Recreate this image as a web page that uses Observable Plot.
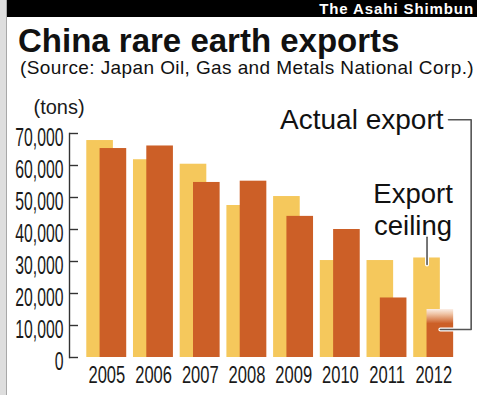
<!DOCTYPE html>
<html><head><meta charset="utf-8">
<script src="https://cdn.jsdelivr.net/npm/d3@7"></script>
<script src="https://cdn.jsdelivr.net/npm/@observablehq/plot@0.6"></script>
<style>
html,body{margin:0;padding:0;background:#fff;}
body{width:478px;height:395px;position:relative;overflow:hidden;font-family:"Liberation Sans",Arial,sans-serif;color:#111;}
#edge{position:absolute;left:0;top:0;width:6px;height:395px;background:#dedede;border-right:1px solid #a8a8a8;}
#brand{position:absolute;left:7px;top:0;width:470px;height:17px;background:#000;color:#fff;font-weight:bold;font-size:15px;line-height:17px;text-align:right;letter-spacing:0.9px;box-sizing:border-box;padding-right:3px;}
#title{position:absolute;left:18px;top:24px;font-weight:bold;font-size:33px;line-height:33px;white-space:nowrap;}
#subtitle{position:absolute;left:20px;top:58px;font-size:19px;line-height:19px;letter-spacing:0.4px;white-space:nowrap;}
#chart{position:absolute;left:0;top:80px;}
</style>
</head>
<body>
<div id="edge"></div>
<div id="brand">The Asahi Shimbun</div>
<div id="title">China rare earth exports</div>
<div id="subtitle">(Source: Japan Oil, Gas and Metals National Corp.)</div>
<div id="chart"></div>
<script>
const years = [2005, 2006, 2007, 2008, 2009, 2010, 2011, 2012];
const yearLabels = ["2005", "2006", "2007", "2008", "2009", "2010", "2011", "2012"];
const ceiling = [67800, 61800, 60400, 47500, 50300, 30300, 30300, 31100];
const actual = [65300, 66100, 54700, 55100, 44100, 40000, 18600, 15000];
const yTicks = [0, 10000, 20000, 30000, 40000, 50000, 60000, 70000];
const unitLabel = "(tons)";
const seriesLabels = ["Actual export", "Export\nceiling"];

const rows = years.map((year, i) => ({year, ceiling: ceiling[i], actual: actual[i]}));
const last = years[years.length - 1];
const lastRow = rows[rows.length - 1];

const ceilColor = "#f5c85c";
const actColor = "#cc5f27";
const leadColor = "#555";

const actualLeader = [
  {x: last + 0.315, y: 74300},
  {x: last + 0.8, y: 74300},
  {x: last + 0.8, y: 8750},
  {x: last + 0.14, y: 8750}
];
const ceilingLeader = [
  {x: last - 0.145, y: 37600},
  {x: last - 0.145, y: 29100}
];

const plot = Plot.plot({
  width: 478,
  height: 315,
  marginLeft: 69,
  marginRight: 5,
  marginTop: 53,
  marginBottom: 38,
  style: {fontFamily: "'Liberation Sans', Arial, sans-serif", color: "#1a1a1a", background: "transparent", overflow: "visible"},
  x: {domain: [2004.2, 2012.85]},
  y: {domain: [0, 70000], label: null},
  marks: [
    Plot.rect(rows, {x1: d => d.year - 0.43, x2: d => d.year + 0.14, y1: 0, y2: "ceiling", fill: ceilColor}),
    Plot.rect(rows.filter(d => d.year !== last), {x1: d => d.year - 0.145, x2: d => d.year + 0.425, y1: 0, y2: "actual", fill: actColor}),
    Plot.rect([lastRow], {x1: d => d.year - 0.145, x2: d => d.year + 0.425, y1: 0, y2: "actual", fill: "url(#fade2012)"}),
    Plot.frame({anchor: "left", stroke: "#333", strokeWidth: 1.4}),
    Plot.axisY(yTicks, {tickSize: -9, tickFormat: () => "", stroke: "#333", strokeWidth: 1.4, label: null}),
    Plot.axisY(yTicks, {tickSize: 0, tickPadding: 6, dy: 4, tickFormat: d3.format(","), fontSize: 25, label: null}),
    Plot.axisX(years, {tickSize: 0, tickPadding: 9, tickFormat: d => yearLabels[years.indexOf(d)], fontSize: 23, label: null}),
    Plot.text([unitLabel], {text: d => d, frameAnchor: "top-left", dx: -36, dy: -26.4, textAnchor: "start", lineAnchor: "middle", fontSize: 20}),
    Plot.line(actualLeader, {x: "x", y: "y", stroke: "white", strokeWidth: 4, curve: "linear"}),
    Plot.line(actualLeader, {x: "x", y: "y", stroke: leadColor, strokeWidth: 1.6, curve: "linear"}),
    Plot.line(ceilingLeader, {x: "x", y: "y", stroke: "white", strokeWidth: 4}),
    Plot.line(ceilingLeader, {x: "x", y: "y", stroke: leadColor, strokeWidth: 1.6}),
    Plot.text([{x: last + 0.315, y: 74300, t: seriesLabels[0]}], {x: "x", y: "y", text: "t", dx: -5, textAnchor: "end", lineAnchor: "middle", fontSize: 28, fill: "#111"}),
    Plot.text([{x: last - 0.145, y: 55200, t: seriesLabels[1]}], {x: "x", y: "y", text: "t", dx: -14, textAnchor: "middle", lineAnchor: "top", lineHeight: 1.15, fontSize: 27.5, fill: "#111"})
  ]
});

document.getElementById("chart").appendChild(plot);

// gradient for the partial 2012 bar
const defs = d3.select(plot).insert("defs", ":first-child");
const grad = defs.append("linearGradient").attr("id", "fade2012").attr("x1", 0).attr("y1", 0).attr("x2", 0).attr("y2", 1);
grad.append("stop").attr("offset", 0).attr("stop-color", "#fbeee6");
grad.append("stop").attr("offset", 0.1).attr("stop-color", "#f0c6a8");
grad.append("stop").attr("offset", 0.3).attr("stop-color", actColor);
grad.append("stop").attr("offset", 1).attr("stop-color", actColor);

// condensed tick labels
function condense(sel, k) {
  plot.querySelectorAll(sel).forEach(t => {
    const L = t.getComputedTextLength();
    if (L > 0) {
      t.setAttribute("textLength", (L * k).toFixed(1));
      t.setAttribute("lengthAdjust", "spacingAndGlyphs");
    }
  });
}
condense('g[aria-label="y-axis tick label"] text', 0.63);
condense('g[aria-label="x-axis tick label"] text', 0.72);
</script>
</body></html>
